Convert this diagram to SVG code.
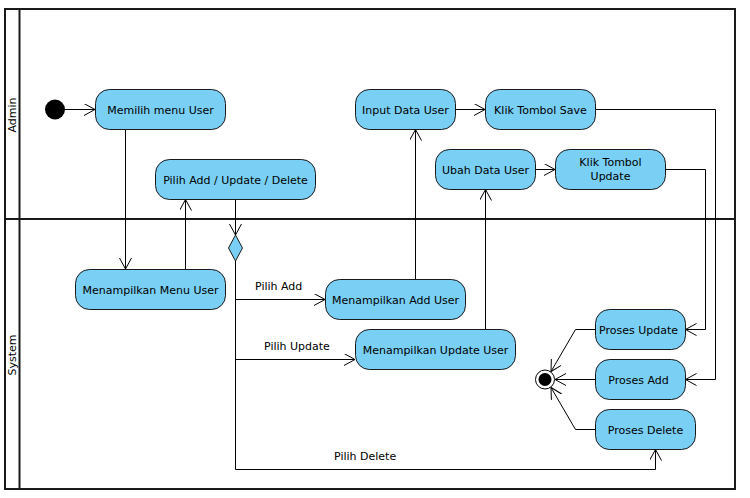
<svg xmlns="http://www.w3.org/2000/svg" width="750" height="498" viewBox="0 0 750 498">
<style>
.frame{fill:none;stroke:#1a1a1a;stroke-width:2}
.act{fill:#7acff5;stroke:#1a1a1a;stroke-width:1}
.t{font-family:"DejaVu Sans",sans-serif;font-size:11px;fill:#000;text-anchor:middle}
.lbl{font-family:"DejaVu Sans",sans-serif;font-size:11px;fill:#000}
.c{fill:none;stroke:#000;stroke-width:1;marker-end:url(#arr)}
</style>
<defs>
<marker id="arr" markerUnits="userSpaceOnUse" markerWidth="14" markerHeight="14" refX="11" refY="6" orient="auto">
<path d="M0,0 L11,6 L0,12" fill="none" stroke="#000" stroke-width="1"/>
</marker>
</defs>
<g id="lanes">
<rect class="frame" x="5" y="9" width="730" height="480"/>
<line class="frame" x1="19.5" y1="9" x2="19.5" y2="489"/>
<line class="frame" x1="5" y1="219" x2="735" y2="219"/>
<text class="lbl" transform="translate(16,115) rotate(-90)" text-anchor="middle">Admin</text>
<text class="lbl" transform="translate(16,355) rotate(-90)" text-anchor="middle">System</text>
</g>
<g id="connectors">
<path class="c" d="M65,109.5 H95"/>
<path class="c" d="M125.5,129.5 V269"/>
<path class="c" d="M185.5,269.5 V199.5"/>
<path class="c" d="M235.5,199.5 V235"/>
<path class="c" d="M235.5,261 V469.5 H655.5 V449.5"/>
<path class="c" d="M235.5,299.5 H325"/>
<path class="c" d="M235.5,359.5 H355"/>
<path class="c" d="M415.5,279.5 V129.5"/>
<path class="c" d="M485.5,329.5 V189.5"/>
<path class="c" d="M455.5,109.5 H485"/>
<path class="c" d="M535.5,169.5 H555"/>
<path class="c" d="M595.5,109.5 H715.5 V379.5 H685.5"/>
<path class="c" d="M665.5,169.5 H705.5 V329.5 H685.5"/>
<path class="c" d="M595.5,329.5 H575.5 L551,371.5"/>
<path class="c" d="M595.5,379.5 H555"/>
<path class="c" d="M595.5,429.5 H575.5 L551,387.5"/>
</g>
<g id="start"><circle cx="55" cy="109.5" r="10" fill="#000"/></g>
<g id="memilih"><rect class="act" x="95.5" y="89.5" width="130" height="40" rx="14"/><text class="t" x="160.5" y="113.5">Memilih menu User</text></g>
<g id="pilih"><rect class="act" x="155.5" y="159.5" width="160" height="40" rx="14"/><text class="t" x="235.5" y="183.5">Pilih Add / Update / Delete</text></g>
<g id="input"><rect class="act" x="355.5" y="89.5" width="100" height="40" rx="14"/><text class="t" x="405.5" y="113.5">Input Data User</text></g>
<g id="save"><rect class="act" x="485.5" y="89.5" width="110" height="40" rx="14"/><text class="t" x="540.5" y="113.5">Klik Tombol Save</text></g>
<g id="ubah"><rect class="act" x="435.5" y="149.5" width="100" height="40" rx="14"/><text class="t" x="485.5" y="173.5">Ubah Data User</text></g>
<g id="update"><rect class="act" x="555.5" y="149.5" width="110" height="40" rx="14"/><text class="t" x="610.5" y="166">Klik Tombol</text><text class="t" x="610.5" y="179.5">Update</text></g>
<g id="menu"><rect class="act" x="75.5" y="269.5" width="150" height="40" rx="14"/><text class="t" x="150.5" y="293.5">Menampilkan Menu User</text></g>
<g id="decision"><path class="act" d="M235.5,235 L242.5,248 L235.5,261 L228.5,248 Z"/></g>
<g id="showadd"><rect class="act" x="325.5" y="279.5" width="140" height="40" rx="14"/><text class="t" x="395.5" y="303.5">Menampilkan Add User</text></g>
<g id="showupdate"><rect class="act" x="355.5" y="329.5" width="160" height="40" rx="14"/><text class="t" x="435.5" y="353.5">Menampilkan Update User</text></g>
<g id="prosesupdate"><rect class="act" x="595.5" y="309.5" width="90" height="40" rx="14"/><text class="t" x="638.5" y="333.5">Proses Update</text></g>
<g id="prosesadd"><rect class="act" x="595.5" y="359.5" width="90" height="40" rx="14"/><text class="t" x="638.5" y="383.5">Proses Add</text></g>
<g id="prosesdelete"><rect class="act" x="595.5" y="409.5" width="100" height="40" rx="14"/><text class="t" x="645.5" y="433.5">Proses Delete</text></g>
<g id="end"><circle cx="545" cy="379.5" r="9.5" fill="#fff" stroke="#000" stroke-width="1"/><circle cx="545" cy="379.5" r="6.5" fill="#000"/></g>
<g id="labels">
<text class="lbl" x="255" y="290">Pilih Add</text>
<text class="lbl" x="264" y="350">Pilih Update</text>
<text class="lbl" x="334" y="460">Pilih Delete</text>
</g>
</svg>
